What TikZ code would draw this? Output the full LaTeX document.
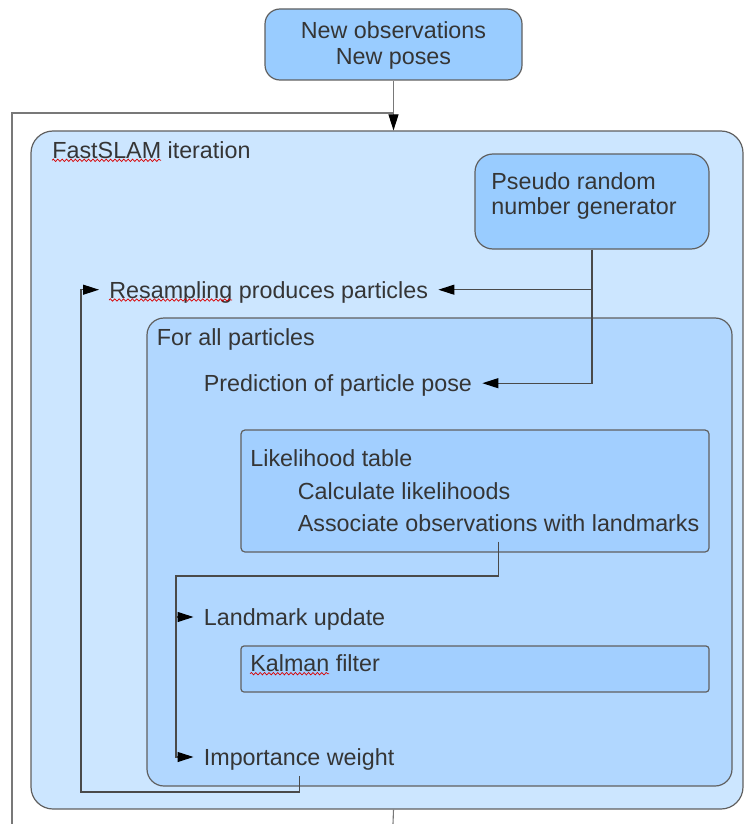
\documentclass[tikz,border=0pt]{standalone}
\usepackage{fontspec}
\setmainfont{Liberation Sans}
\usetikzlibrary{arrows.meta,fit,decorations.pathmorphing}

\definecolor{topblue}{HTML}{99CCFF}
\definecolor{outerblue}{HTML}{CCE6FF}
\definecolor{midblue}{HTML}{B1D7FF}
\definecolor{innerblue}{HTML}{A2CFFF}
\definecolor{boxgray}{HTML}{606060}
\definecolor{wiregray}{HTML}{4A4A4A}
\definecolor{loopgray}{HTML}{787878}
\definecolor{textgray}{HTML}{353535}

\tikzset{
  box/.style={draw=boxgray, line width=0.6pt, inner sep=0pt},
  lbl/.style={inner sep=0pt, anchor=base west, text=textgray,
    font=\fontsize{11.65pt}{14pt}\selectfont, text height=13.4pt, text depth=5.1pt},
  wire/.style={draw=wiregray, line width=0.55pt},
  tip/.style={wire, -{Triangle[length=8pt,width=5pt,color=black]}, shorten >=5pt},
  squiggle/.style={red!85!black, line width=0.35pt, decorate,
    decoration={snake, amplitude=0.6pt, segment length=2.2pt}}
}

\begin{document}
\begin{tikzpicture}[x=0.5pt,y=-0.5pt]
\useasboundingbox (0,0) rectangle (744,824);
% boxes
\node[box,fill=topblue,rounded corners=7.5pt,fit={(265,9) (522,80)}] (obs) {};
\node[box,fill=outerblue,rounded corners=11pt,fit={(31,131) (743,809)}] (iter) {};
\node[box,fill=topblue,rounded corners=9pt,fit={(475,154) (709,249)}] (prng) {};
\node[box,fill=midblue,rounded corners=8.5pt,fit={(147,318) (732,786)}] (allp) {};
\node[box,fill=innerblue,rounded corners=2pt,fit={(241,430) (709,552)}] (lktab) {};
\node[box,fill=innerblue,rounded corners=1.5pt,fit={(241,646) (709,692)}] (kalm) {};
% texts
\node[lbl,anchor=base] (obstxt) at (393.5,38.5) {New observations};
\node[lbl,anchor=base] (postxt) at (393.5,64.5) {New poses};
\node[lbl] (itertxt) at (52,158.3) {FastSLAM iteration};
\node[lbl] (prngtxt) at (491,189.5) {Pseudo random};
\node[lbl] (prngtxt2) at (491,214.5) {number generator};
\node[lbl] (resamp) at (109,298) {Resampling produces particles};
\node[lbl] (allptxt) at (156.5,345) {For all particles};
\node[lbl] (pred) at (203.5,391.5) {Prediction of particle pose};
\node[lbl] (lktxt) at (250,466.3) {Likelihood table};
\node[lbl] (calc) at (297.5,499) {Calculate likelihoods};
\node[lbl] (assoc) at (297.5,531) {Associate observations with landmarks};
\node[lbl] (land) at (203.5,625.3) {Landmark update};
\node[lbl] (kaltxt) at (250,671.7) {Kalman filter};
\node[lbl] (imp) at (203.5,765.3) {Importance weight};
% spell check marks
\draw[squiggle] ([yshift=-1pt]itertxt.base west) -- ++(109,0);
\draw[squiggle] ([yshift=-1pt]resamp.base west) -- ++(123,0);
\draw[squiggle] ([yshift=-1pt]kaltxt.base west) -- ++(79,0);
% outer loop
\coordinate (loopb) at (393,824);
\coordinate (loopl) at (12,824);
\coordinate (loopt) at (12,113);
\draw[tip,draw=loopgray,shorten >=0pt] (obs.south) -- (obs.south |- iter.north);
\draw[wire,draw=loopgray] (iter.south -| obs.south) -- (loopb);
\draw[wire,draw=loopgray] (loopl) -- (loopt) -- (loopt -| obs.south);
% random numbers
\draw[tip] (prng.south) |- (pred.east);
\draw[tip] (prng.south |- resamp.east) -- (resamp.east);
% particle flow
\coordinate (lkturn) at (176,576);
\coordinate (rsturn) at (81,792);
\draw[tip] (assoc.south) |- (lkturn) |- (imp.west);
\draw[tip] (lkturn |- land.west) -- (land.west);
\draw[tip] (imp.south) |- (rsturn) |- (resamp.west);
\end{tikzpicture}
\end{document}
